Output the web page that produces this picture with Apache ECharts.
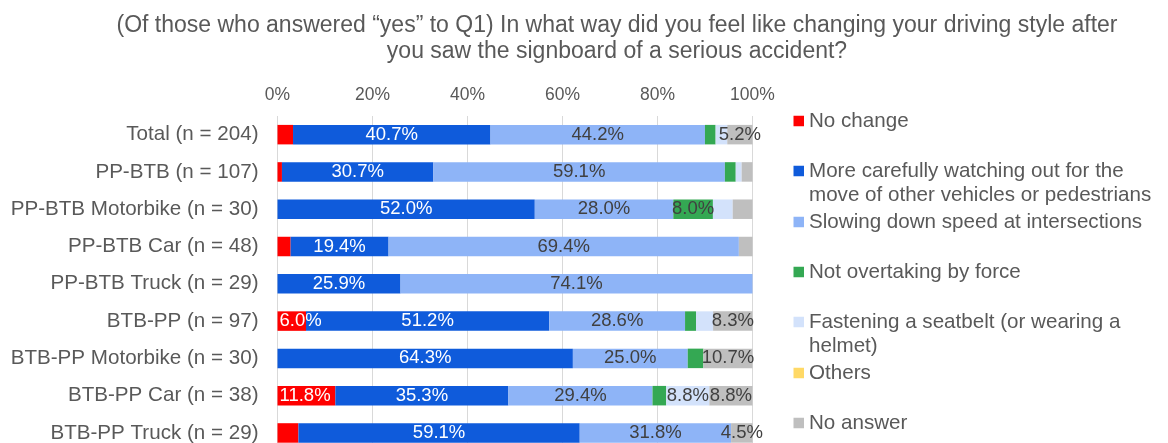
<!DOCTYPE html>
<html>
<head>
<meta charset="utf-8">
<script src="https://cdn.jsdelivr.net/npm/echarts@6/dist/echarts.min.js"></script>
<style>
  html, body { margin: 0; padding: 0; background: #fff; }
  #chart { width: 1168px; height: 443px; }
</style>
</head>
<body>
<div id="chart"></div>
<script>
// categories, top to bottom
const categories = [
  'Total (n = 204)',
  'PP-BTB (n = 107)',
  'PP-BTB Motorbike (n = 30)',
  'PP-BTB Car (n = 48)',
  'PP-BTB Truck (n = 29)',
  'BTB-PP (n = 97)',
  'BTB-PP Motorbike (n = 30)',
  'BTB-PP Car (n = 38)',
  'BTB-PP Truck (n = 29)'
]

// raw shares (%) per answer, Excel draws them as 100% stacked
const noChange = [3.2, 0.9, 0, 2.6, 0, 6.0, 0, 11.8, 4.4]
const carefully = [40.7, 30.7, 52.0, 19.4, 25.9, 51.2, 64.3, 35.3, 59.1]
const slowing = [44.2, 59.1, 28.0, 69.4, 74.1, 28.6, 25.0, 29.4, 31.8]
const notOvertaking = [2.2, 2.2, 8.0, 0, 0, 2.3, 3.4, 2.8, 0]
const seatbelt = [2.4, 1.2, 4.0, 0, 0, 3.6, 0, 8.8, 0]
const others = [0, 0, 0, 0, 0, 0, 0, 0, 0]
const noAnswer = [5.2, 2.2, 4.0, 2.7, 0, 8.3, 10.7, 8.8, 4.5]

const xTicks = [0, 20, 40, 60, 80, 100]

const seriesNames = [
  'No change',
  'More carefully watching out for the move of other vehicles or pedestrians',
  'Slowing down speed at intersections',
  'Not overtaking by force',
  'Fastening a seatbelt (or wearing a helmet)',
  'Others',
  'No answer'
]
// how the legend wraps the long names
const legendLines = [
  ['No change'],
  ['More carefully watching out for the', 'move of other vehicles or pedestrians'],
  ['Slowing down speed at intersections'],
  ['Not overtaking by force'],
  ['Fastening a seatbelt (or wearing a', 'helmet)'],
  ['Others'],
  ['No answer']
]
const legendY = [121, 171, 222, 272, 322, 373, 423]

const seriesData = [noChange, carefully, slowing, notOvertaking, seatbelt, others, noAnswer]
const colors = ['#FF0000', '#0F5BDB', '#8EB4F7', '#34A853', '#D3E2FB', '#FFD966', '#BFBFBF']
const labelColors = ['#FFFFFF', '#FFFFFF', '#404040', '#404040', '#404040', '#404040', '#404040']

const FONT = '"Liberation Sans", Arial, sans-serif'
const TEXT = '#595959'

// row totals for normalising
const rowSum = categories.map((_, i) => seriesData.reduce((s, arr) => s + arr[i], 0))

const chart = echarts.init(document.getElementById('chart'))

const series = seriesData.map((arr, k) => ({
  name: seriesNames[k],
  type: 'bar',
  stack: 'all',
  barWidth: 19.5,
  itemStyle: { color: colors[k] },
  label: {
    show: true,
    // the first segment sits at the axis, keep its label from running off to the left
    position: k === 0 ? 'insideLeft' : 'inside',
    distance: 2,
    color: labelColors[k],
    fontFamily: FONT,
    fontSize: 18.5,
    formatter: (p) => p.data.raw.toFixed(1) + '%'
  },
  data: arr.map((v, i) => ({
    value: v / rowSum[i] * 100,
    raw: v,
    label: { show: v >= 4.5 }
  }))
}))

const LH = 24.5
const legends = seriesNames.map((name, k) => {
  const lines = legendLines[k]
  const multi = lines.length > 1
  const h = multi ? LH * 3 : LH
  return {
    data: [{ name: name, icon: 'rect' }],
    left: 793.5,
    top: legendY[k] - h / 2,
    padding: 0,
    itemWidth: 10.5,
    itemHeight: 10.5,
    selectedMode: false,
    formatter: () => (multi ? '\n' : '') + lines.join('\n'),
    textStyle: { color: TEXT, fontFamily: FONT, fontSize: 20.6, lineHeight: LH }
  }
})

chart.setOption({
  backgroundColor: '#fff',
  animation: false,
  title: {
    text: '(Of those who answered \u201cyes\u201d to Q1) In what way did you feel like changing your driving style after\nyou saw the signboard of a serious accident?',
    left: 612,
    top: 7.5,
    textAlign: 'center',
    textStyle: { color: TEXT, fontFamily: FONT, fontSize: 23, fontWeight: 'normal', lineHeight: 26 }
  },
  legend: legends,
  grid: { left: 277.5, top: 116, width: 475, height: 335.6, outerBoundsMode: 'none', containLabel: false },
  xAxis: {
    type: 'value',
    position: 'top',
    min: xTicks[0],
    max: xTicks[xTicks.length - 1],
    interval: xTicks[1] - xTicks[0],
    axisLine: { show: false },
    axisTick: { show: false },
    splitLine: { lineStyle: { color: '#D9D9D9', width: 1 } },
    axisLabel: { formatter: '{value}%', color: TEXT, fontFamily: FONT, fontSize: 17.5, margin: 12 }
  },
  yAxis: {
    type: 'category',
    inverse: true,
    data: categories,
    axisLine: { show: false },
    axisTick: { show: false },
    axisLabel: { color: TEXT, fontFamily: FONT, fontSize: 20.6, margin: 19 }
  },
  series: series
})
</script>
</body>
</html>
